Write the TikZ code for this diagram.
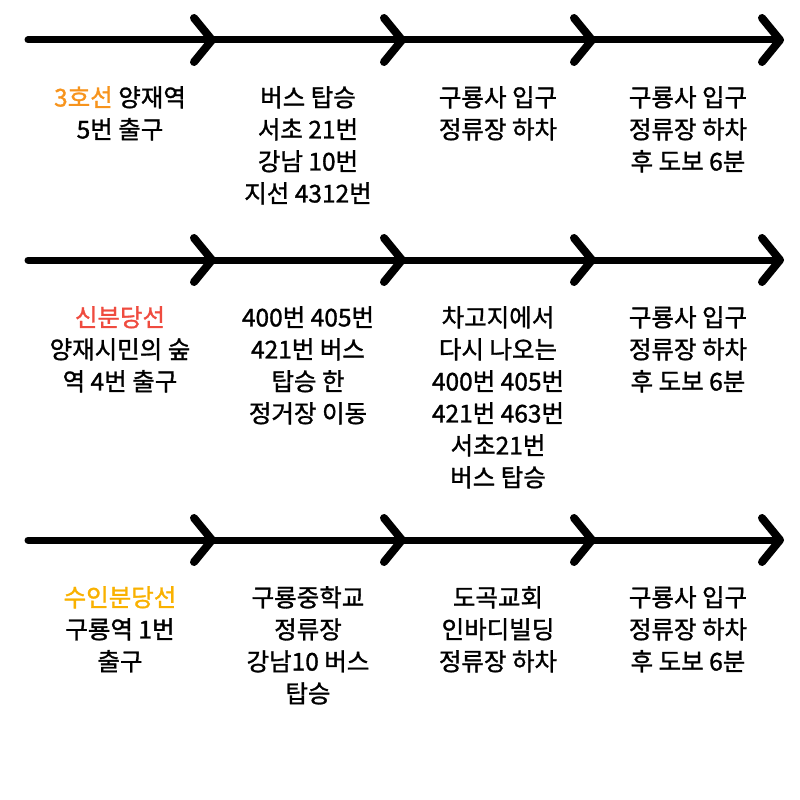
\documentclass[tikz,border=0pt]{standalone}
\usepackage{fontspec}
\setmainfont{Noto Sans CJK KR}[FakeBold=1.2]
\definecolor{orn}{HTML}{F7941D}
\definecolor{rd}{HTML}{EF4B3F}
\definecolor{yl}{HTML}{F9B100}
\begin{document}
\begin{tikzpicture}[x=1pt,y=-1pt,
  seg/.style={line width=7pt,line cap=round},
  chev/.style={line width=8pt,line cap=round,line join=round},
  lbl/.style={align=center,font=\fontsize{24.5}{32}\selectfont,anchor=north,inner sep=0pt}]
\useasboundingbox (0,0) rectangle (800,800);
\foreach \y/\r in {40/a,260/b,540/c}{
  \coordinate (\r0) at (28,\y);
  \coordinate (\r4) at (780,\y);
  \draw[seg] (\r0) -- (\r4);
  \foreach \x in {212,402,592,780}{
    \draw[chev] (\x-18,\y-22) -- (\x,\y) -- (\x-18,\y+22);
  }
}
\node[lbl] (a1) at (120,86) {{\color{orn}3호선} 양재역\\5번 출구};
\node[lbl] (a2) at (308,86) {버스 탑승\\서초 21번\\강남 10번\\지선 4312번};
\node[lbl] (a3) at (498,86) {구룡사 입구\\정류장 하차};
\node[lbl] (a4) at (688,86) {구룡사 입구\\정류장 하차\\후 도보 6분};
\node[lbl] (b1) at (120,306) {{\color{rd}신분당선}\\양재시민의 숲\\역 4번 출구};
\node[lbl] (b2) at (308,306) {400번 405번\\421번 버스\\탑승 한\\정거장 이동};
\node[lbl] (b3) at (498,306) {차고지에서\\다시 나오는\\400번 405번\\421번 463번\\서초21번\\버스 탑승};
\node[lbl] (b4) at (688,306) {구룡사 입구\\정류장 하차\\후 도보 6분};
\node[lbl] (c1) at (120,586) {{\color{yl}수인분당선}\\구룡역 1번\\출구};
\node[lbl] (c2) at (308,586) {구룡중학교\\정류장\\강남10 버스\\탑승};
\node[lbl] (c3) at (498,586) {도곡교회\\인바디빌딩\\정류장 하차};
\node[lbl] (c4) at (688,586) {구룡사 입구\\정류장 하차\\후 도보 6분};
\end{tikzpicture}
\end{document}
